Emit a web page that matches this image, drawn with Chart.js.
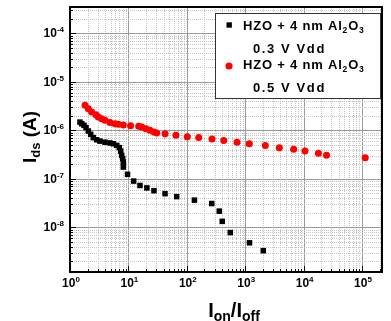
<!DOCTYPE html>
<html><head><meta charset="utf-8">
<script src="https://cdn.jsdelivr.net/npm/chart.js@4/dist/chart.umd.min.js"></script>
<style>html,body{margin:0;padding:0;background:#fff}#wrap{width:391px;height:321px}</style>
</head><body><div id="wrap"><canvas id="c" width="391" height="321"></canvas></div>
<script>
// ---- data ----
const blackX = [1.48,1.59,1.74,1.88,2.06,2.26,2.51,2.86,3.26,3.97,4.84,5.51,6.30,6.98,7.38,7.68,7.99,8.18,8.18,9.66,12.3,15.8,20.7,27.4,42.4,67.1,135,267,360,404,556,1185,2040];
const blackY = [1.48e-6,1.37e-6,1.27e-6,1.14e-6,9.7e-7,8.3e-7,7.1e-7,6.4e-7,6.0e-7,5.7e-7,5.5e-7,5.3e-7,4.9e-7,4.4e-7,3.74e-7,3.05e-7,2.61e-7,2.22e-7,1.75e-7,1.24e-7,9.0e-8,7.3e-8,6.5e-8,5.7e-8,4.95e-8,4.3e-8,3.64e-8,3.1e-8,2.16e-8,1.33e-8,7.8e-9,4.8e-9,3.3e-9];
const redX = [1.81,2.06,2.35,2.79,3.05,3.49,3.97,4.84,5.90,6.71,8.18,10.9,15.0,16.9,20.0,23.4,27.4,30.5,42.4,65.3,102,160,270,429,725,1175,2210,3840,6760,10570,17900,24700,113500];
const redY = [3.28e-6,2.80e-6,2.38e-6,2.11e-6,1.88e-6,1.74e-6,1.61e-6,1.46e-6,1.37e-6,1.33e-6,1.29e-6,1.25e-6,1.21e-6,1.17e-6,1.08e-6,1.0e-6,9.2e-7,8.8e-7,8.5e-7,7.9e-7,7.4e-7,7.1e-7,6.6e-7,6.2e-7,5.7e-7,5.3e-7,4.9e-7,4.4e-7,4.06e-7,3.74e-7,3.36e-7,3.05e-7,2.74e-7];
const seriesLabels = [["HZO + 4 nm Al_{2}O_{3}","0.3 V Vdd"],["HZO + 4 nm Al_{2}O_{3}","0.5 V Vdd"]];
const xTickExps = [0,1,2,3,4,5];
const yTickExps = [-8,-7,-6,-5,-4];
const xTitle = "I_{on}/I_{off}";
const yTitle = "I_{ds} (A)";

const FAM = '"Liberation Sans", Arial, sans-serif';

function parseRich(s){
  const re=/_\{([^}]*)\}|\^\{([^}]*)\}|([^_^]+)/g; let m; const out=[];
  while((m=re.exec(s))){
    if(m[1]!==undefined) out.push({t:m[1],k:'sub'});
    else if(m[2]!==undefined) out.push({t:m[2],k:'sup'});
    else out.push({t:m[3],k:'n'});
  }
  return out;
}
function drawRich(ctx,s,x,y,o){
  const parts=parseRich(s);
  const fontOf=k=>'bold '+(k==='n'?o.size:o.sub)+'px '+FAM;
  ctx.letterSpacing=(o.ls||0)+'px';
  let w=0;
  for(const p of parts){ctx.font=fontOf(p.k);p.w=ctx.measureText(p.t).width;w+=p.w;}
  let cx=o.align==='center'?x-w/2:(o.align==='right'?x-w:x);
  ctx.textBaseline='alphabetic';ctx.textAlign='left';
  for(const p of parts){
    ctx.font=fontOf(p.k);
    const dy=p.k==='sub'?o.subDy:(p.k==='sup'?-o.supDy:0);
    ctx.fillText(p.t,cx,y+dy);cx+=p.w;
  }
  ctx.letterSpacing='0px';
}

const gridPlugin={
  id:'grid',
  beforeDatasetsDraw(chart){
    const {ctx,chartArea:a,scales:{x,y}}=chart;
    ctx.save();
    ctx.beginPath();ctx.rect(a.left,a.top,a.right-a.left,a.bottom-a.top);ctx.clip();
    const lines=(scale,horiz,lo,hi)=>{
      for(let e=lo;e<=hi;e++){
        for(let m=1;m<=9;m++){
          const v=m*Math.pow(10,e);
          if(v<scale.min||v>scale.max) continue;
          const p=scale.getPixelForValue(v);
          ctx.beginPath();
          if(m===1){ctx.setLineDash([]);ctx.strokeStyle='#9a9a9a';ctx.lineWidth=1;}
          else{ctx.setLineDash([1,1]);ctx.strokeStyle='#c4c4c4';ctx.lineWidth=1;}
          const q=Math.round(p)+0.5;
          if(horiz){ctx.moveTo(a.left,q);ctx.lineTo(a.right,q);}
          else{ctx.moveTo(q,a.top);ctx.lineTo(q,a.bottom);}
          ctx.stroke();
        }
      }
    };
    lines(x,false,0,5);
    lines(y,true,-9,-4);
    ctx.restore();
  }
};

const decoPlugin={
  id:'deco',
  afterDraw(chart){
    const {ctx,chartArea:a,scales:{x,y}}=chart;
    ctx.save();
    ctx.fillStyle='#000';ctx.strokeStyle='#000';ctx.setLineDash([]);
    // inner ticks
    ctx.lineWidth=1;
    for(let e=0;e<=5;e++){for(let m=1;m<=9;m++){const v=m*Math.pow(10,e);if(v<x.min||v>x.max)continue;
      const p=Math.round(x.getPixelForValue(v))+0.5;const L=m===1?6:3;
      ctx.beginPath();ctx.moveTo(p,a.bottom);ctx.lineTo(p,a.bottom-L);ctx.stroke();}}
    for(let e=-9;e<=-4;e++){for(let m=1;m<=9;m++){const v=m*Math.pow(10,e);if(v<y.min||v>y.max)continue;
      const p=Math.round(y.getPixelForValue(v))+0.5;const L=m===1?6:3;
      ctx.beginPath();ctx.moveTo(a.left,p);ctx.lineTo(a.left+L,p);ctx.stroke();}}
    // frame
    ctx.lineWidth=2;
    ctx.strokeRect(a.left,a.top,a.right-a.left,a.bottom-a.top);
    // tick labels
    const tl={size:12,sub:8,subDy:3,supDy:5};
    for(const e of xTickExps){
      const p=x.getPixelForValue(Math.pow(10,e));
      drawRich(ctx,'10^{'+e+'}',p+1,a.bottom+15,Object.assign({align:'center'},tl));
    }
    for(const e of yTickExps){
      const p=y.getPixelForValue(Math.pow(10,e));
      drawRich(ctx,'10^{'+e+'}',a.left-6,p+4,Object.assign({align:'right'},tl));
    }
    // axis titles
    drawRich(ctx,xTitle,234,317,{align:'center',size:20,sub:14,subDy:4,supDy:0});
    ctx.save();ctx.translate(36,137);ctx.rotate(-Math.PI/2);
    drawRich(ctx,yTitle,0,0,{align:'center',size:19,sub:13,subDy:4,supDy:0});
    ctx.restore();
    // legend
    const bx=215,by=13,bw=165,bh=85;
    ctx.fillStyle='#fff';ctx.fillRect(bx,by,bw,bh);
    ctx.lineWidth=1;ctx.strokeStyle='#333';ctx.strokeRect(bx+0.5,by+0.5,bw,bh);
    const ds=chart.data.datasets;
    const rows=[[25,29.5,53],[66,69,92]];
    const lo={size:13,sub:8.5,subDy:3,supDy:0,ls:0.8};
    ds.forEach((d,i)=>{
      const [my,b1,b2]=rows[i];
      ctx.fillStyle=d.backgroundColor;
      if(d.pointStyle==='rect'){ctx.fillRect(226.5,my-2.7,5.4,5.4);}
      else{ctx.beginPath();ctx.arc(229,my,3.6,0,Math.PI*2);ctx.fill();}
      ctx.fillStyle='#000';
      drawRich(ctx,seriesLabels[i][0],243,b1,Object.assign({align:'left'},lo));
      drawRich(ctx,seriesLabels[i][1],253,b2,Object.assign({align:'left'},lo,{ls:1.6}));
    });
    ctx.restore();
  }
};

new Chart(document.getElementById('c'),{
  type:'scatter',
  data:{datasets:[
    {label:seriesLabels[0].join(' '),data:blackX.map((v,i)=>({x:v,y:blackY[i]})),pointStyle:'rect',pointRadius:3.9,backgroundColor:'#000000',borderColor:'#000000',borderWidth:0},
    {label:seriesLabels[1].join(' '),data:redX.map((v,i)=>({x:v,y:redY[i]})),pointStyle:'circle',pointRadius:3.5,backgroundColor:'#ff0000',borderColor:'#ff0000',borderWidth:0}
  ]},
  options:{
    responsive:false,animation:false,devicePixelRatio:1,
    layout:{padding:{top:7,right:9,left:0,bottom:0}},
    plugins:{legend:{display:false},tooltip:{enabled:false}},
    scales:{
      x:{type:'logarithmic',min:1,max:2.2e5,grid:{display:false},border:{display:false},ticks:{display:false},afterFit(s){s.height=49;}},
      y:{type:'logarithmic',min:1.2e-9,max:3.5e-4,grid:{display:false},border:{display:false},ticks:{display:false},afterFit(s){s.width=70;}}
    }
  },
  plugins:[gridPlugin,decoPlugin]
});
</script></body></html>
